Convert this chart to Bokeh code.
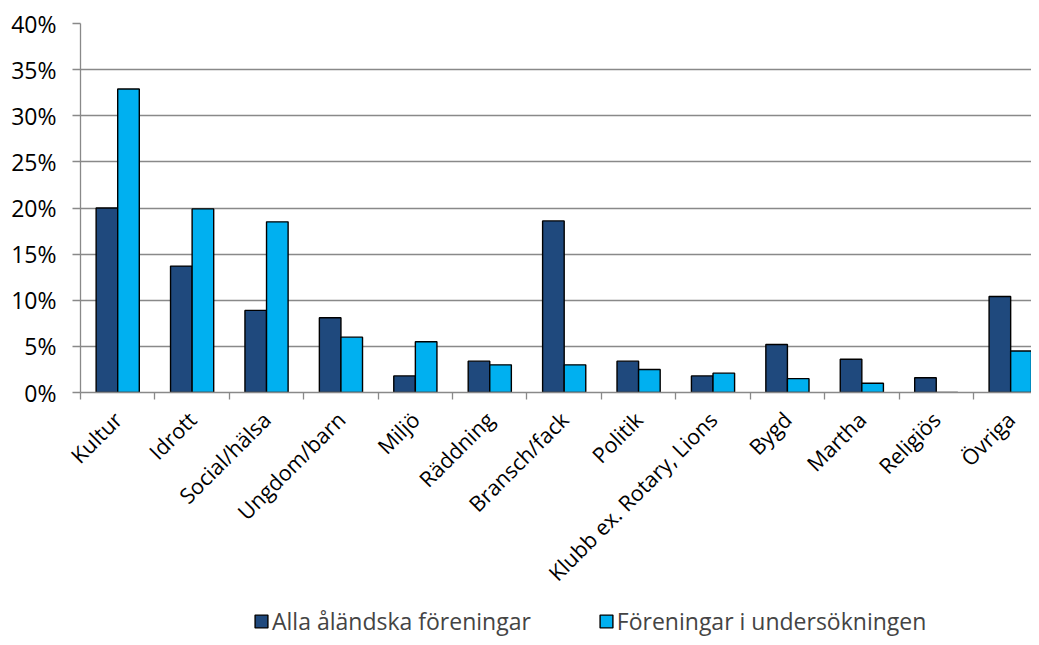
import math
from bokeh.plotting import figure
from bokeh.layouts import column
from bokeh.models import FixedTicker, Range1d, Legend, LegendItem, PrintfTickFormatter
from bokeh.embed import file_html
from bokeh.resources import INLINE

categories = ["Kultur", "Idrott", "Social/hälsa", "Ungdom/barn", "Miljö", "Räddning",
              "Bransch/fack", "Politik", "Klubb ex. Rotary, Lions", "Bygd", "Martha",
              "Religiös", "Övriga"]
alla = [20.0, 13.7, 8.9, 8.1, 1.8, 3.4, 18.6, 3.4, 1.8, 5.2, 3.6, 1.6, 10.4]
undersokning = [32.9, 19.9, 18.5, 6.0, 5.5, 3.0, 3.0, 2.5, 2.1, 1.5, 1.0, 0.0, 4.5]
y_ticks = [0, 5, 10, 15, 20, 25, 30, 35, 40]
series_names = ["Alla åländska föreningar", "Föreningar i undersökningen"]

FONT = "Open Sans"
GRAY = "#898989"
DARK = "#1F497D"
LIGHT = "#00B0F0"
n = len(categories)
centers = [i + 0.5 for i in range(n)]
bw = 0.29

p = figure(width=1031, height=600, x_range=Range1d(0, 12.78), y_range=Range1d(0, 40),
           output_backend="svg", toolbar_location=None,
           min_border_left=80, min_border_right=0, min_border_top=23, min_border_bottom=208)
p.outline_line_color = None

p.vbar(x=[c - bw / 2 for c in centers], top=alla, width=bw,
       fill_color=DARK, line_color="black", line_width=1.4)
p.vbar(x=[c + bw / 2 for c in centers], top=undersokning, width=bw,
       fill_color=LIGHT, line_color="black", line_width=1.4)

# y axis
p.yaxis.ticker = FixedTicker(ticks=y_ticks)
p.yaxis.formatter = PrintfTickFormatter(format="%d%%")
p.yaxis.major_label_text_font = FONT
p.yaxis.major_label_text_font_size = "23px"
p.yaxis.major_label_text_color = "black"
p.yaxis.axis_line_color = GRAY
p.yaxis.axis_line_width = 1.3
p.yaxis.major_tick_line_color = GRAY
p.yaxis.major_tick_line_width = 1.3
p.yaxis.major_tick_out = 8
p.yaxis.major_tick_in = 0
p.yaxis.minor_tick_line_color = None
p.yaxis.major_label_standoff = 16

# x axis
p.xaxis.ticker = FixedTicker(ticks=centers, minor_ticks=list(range(n)))
p.xaxis.major_label_overrides = {c: lab for c, lab in zip(centers, categories)}
p.xaxis.major_label_orientation = math.pi / 4
p.xaxis.major_label_text_font = FONT
p.xaxis.major_label_text_font_size = "21.5px"
p.xaxis.major_label_text_color = "black"
p.xaxis.major_label_standoff = 16
p.xaxis.axis_line_color = GRAY
p.xaxis.axis_line_width = 1.3
p.xaxis.major_tick_line_color = None
p.xaxis.minor_tick_line_color = GRAY
p.xaxis.minor_tick_line_width = 1.3
p.xaxis.minor_tick_out = 7
p.xaxis.minor_tick_in = 0

p.xgrid.grid_line_color = None
p.ygrid.ticker = FixedTicker(ticks=y_ticks[1:])
p.ygrid.grid_line_color = GRAY
p.ygrid.grid_line_width = 1.3

# legend strip
nan = float("nan")
p2 = figure(width=1031, height=37, x_range=Range1d(0, 1), y_range=Range1d(0, 1),
            output_backend="svg", toolbar_location=None,
            x_axis_location=None, y_axis_location=None, min_border=0)
p2.outline_line_color = None
p2.grid.visible = False
k1 = p2.vbar(x=[nan], bottom=[nan], top=[nan], width=0.1,
             fill_color=DARK, line_color="black", line_width=1.4)
k2 = p2.vbar(x=[nan], bottom=[nan], top=[nan], width=0.1,
             fill_color=LIGHT, line_color="black", line_width=1.4)
legend = Legend(items=[LegendItem(label=series_names[0], renderers=[k1]),
                       LegendItem(label=series_names[1], renderers=[k2])],
                orientation="horizontal", location=(173, 0),
                label_text_font=FONT, label_text_font_size="23px", label_text_line_height=1.0,
                glyph_width=16, glyph_height=16, label_standoff=3, spacing=67,
                padding=0, margin=0, border_line_color=None, background_fill_alpha=0)
p2.add_layout(legend, "center")

layout = column(p, p2, spacing=0)
open("out.html", "w").write(file_html(layout, INLINE))
